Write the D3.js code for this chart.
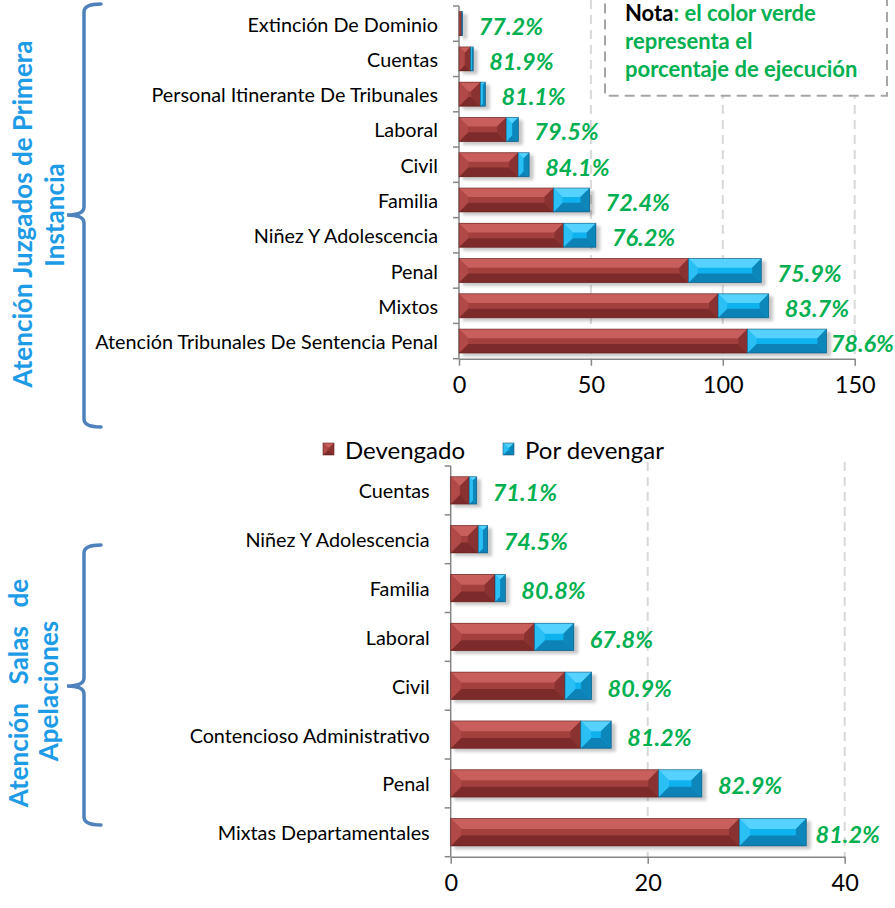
<!DOCTYPE html>
<html>
<head>
<meta charset="utf-8">
<script src="https://cdn.jsdelivr.net/npm/d3@7"></script>
<style>
  body { margin: 0; background: #fff; }
  svg { display: block; font-family: Lato, "Open Sans", sans-serif; }
</style>
</head>
<body>
<div id="chart"></div>
<script>
// ---- data ----
const topCats = ["Extinción De Dominio", "Cuentas", "Personal Itinerante De Tribunales", "Laboral", "Civil",
    "Familia", "Niñez Y Adolescencia", "Penal", "Mixtos", "Atención Tribunales De Sentencia Penal"];
const topDevengado = [1.08, 4.4, 8.1, 17.9, 22.4, 35.8, 39.6, 87.0, 98.2, 109.3];
const topPorDevengar = [0.32, 1.0, 1.9, 4.6, 4.2, 13.7, 12.3, 27.6, 19.2, 30.0];
const topPct = ["77.2%", "81.9%", "81.1%", "79.5%", "84.1%", "72.4%", "76.2%", "75.9%", "83.7%", "78.6%"];
const topTicks = [0, 50, 100, 150];

const botCats = ["Cuentas", "Niñez Y Adolescencia", "Familia", "Laboral", "Civil",
    "Contencioso Administrativo", "Penal", "Mixtas Departamentales"];
const botDevengado = [1.88, 2.8, 4.5, 8.5, 11.6, 13.2, 21.1, 29.3];
const botPorDevengar = [0.76, 0.95, 1.05, 4.0, 2.7, 3.1, 4.4, 6.8];
const botPct = ["71.1%", "74.5%", "80.8%", "67.8%", "80.9%", "81.2%", "82.9%", "81.2%"];
const botTicks = [0, 20, 40];

const seriesNames = ["Devengado", "Por devengar"];

// bevel colours for the two series
const redBar = { base: "#a3413e", top: "#c95f5b", bottom: "#7b2b29", left: "#b04a46", right: "#8a3330", stroke: "#5e1f1d" };
const blueBar = { base: "#0fb2ee", top: "#55d2ff", bottom: "#0b82b6", left: "#2cc0f5", right: "#0a86b9", stroke: "#1a4f72" };
const green = "#00b050";
const groupBlue = "#1e9be6";
const braceBlue = "#4f81bd";

const svg = d3.select("div#chart").append("svg")
    .attr("width", 895)
    .attr("height", 908);

const defs = svg.append("defs");
const shadow = defs.append("filter").attr("id", "shadow")
    .attr("x", "-10%").attr("y", "-20%").attr("width", "130%").attr("height", "160%");
shadow.append("feDropShadow")
    .attr("dx", 4).attr("dy", 3).attr("stdDeviation", 1.6)
    .attr("flood-color", "#000").attr("flood-opacity", 0.22);

// draw one bevelled rectangle
function bevelBar(g, x, y, w, h, c) {
    if (w <= 0) return;
    const d = Math.min(h * 0.38, w / 2);
    const bar = g.append("g");
    bar.append("rect").attr("x", x).attr("y", y).attr("width", w).attr("height", h).attr("fill", c.base);
    const poly = (pts, fill) => bar.append("polygon")
        .attr("points", pts.map(p => p.join(",")).join(" "))
        .attr("fill", fill);
    poly([[x, y], [x + w, y], [x + w - d, y + d], [x + d, y + d]], c.top);
    poly([[x, y + h], [x + w, y + h], [x + w - d, y + h - d], [x + d, y + h - d]], c.bottom);
    poly([[x, y], [x + d, y + d], [x + d, y + h - d], [x, y + h]], c.left);
    poly([[x + w, y], [x + w - d, y + d], [x + w - d, y + h - d], [x + w, y + h]], c.right);
    bar.append("rect").attr("x", x).attr("y", y).attr("width", w).attr("height", h)
        .attr("fill", "none").attr("stroke", c.stroke).attr("stroke-width", 0.8).attr("stroke-opacity", 0.7);
}

function drawPanel(cfg) {
    const g = svg.append("g");

    const x = d3.scaleLinear()
        .domain([0, cfg.ticks[cfg.ticks.length - 1]])
        .range([cfg.x0, cfg.x1]);

    const y = d3.scaleBand()
        .domain(cfg.cats)
        .range([cfg.yTop, cfg.yBottom])
        .paddingInner(cfg.pad)
        .paddingOuter(cfg.pad / 2);

    // dashed grid lines
    g.selectAll("line.grid")
        .data(cfg.ticks.filter(t => t > 0))
        .join("line")
        .attr("class", "grid")
        .attr("x1", d => x(d)).attr("x2", d => x(d))
        .attr("y1", cfg.gridTop).attr("y2", cfg.yBottom)
        .attr("stroke", "#d9d9d9")
        .attr("stroke-width", 2)
        .attr("stroke-dasharray", "9,6");

    // x axis
    const xAxis = g.append("g")
        .attr("transform", `translate(0,${cfg.yBottom})`)
        .call(d3.axisBottom(x).tickValues(cfg.ticks).tickSize(7).tickPadding(11).tickSizeOuter(0));
    xAxis.select(".domain").attr("stroke", "#868686").attr("stroke-width", 1.5);
    xAxis.selectAll(".tick line").attr("stroke", "#868686").attr("stroke-width", 1.5);
    xAxis.selectAll(".tick text")
        .attr("font-size", 23.5)
        .attr("font-family", "Lato, sans-serif")
        .attr("fill", "#000");

    // y axis line + boundary ticks
    g.append("line")
        .attr("x1", cfg.x0).attr("x2", cfg.x0)
        .attr("y1", cfg.yTop).attr("y2", cfg.yBottom)
        .attr("stroke", "#868686").attr("stroke-width", 1.5);
    const step = y.step();
    g.selectAll("line.ytick")
        .data(d3.range(cfg.cats.length + 1))
        .join("line")
        .attr("class", "ytick")
        .attr("x1", cfg.x0 - 6).attr("x2", cfg.x0)
        .attr("y1", i => cfg.yTop + i * step).attr("y2", i => cfg.yTop + i * step)
        .attr("stroke", "#868686").attr("stroke-width", 1.5);

    // category labels
    g.selectAll("text.cat")
        .data(cfg.cats)
        .join("text")
        .attr("class", "cat")
        .attr("x", cfg.x0 - 21)
        .attr("y", d => y(d) + y.bandwidth() / 2)
        .attr("text-anchor", "end")
        .attr("dominant-baseline", "central")
        .attr("font-size", 19.8)
        .attr("fill", "#000")
        .text(d => d);

    // stacked bars
    const bars = g.append("g").attr("filter", "url(#shadow)");
    cfg.cats.forEach((c, i) => {
        const by = y(c), bh = y.bandwidth();
        const bg = bars.append("g");
        bevelBar(bg, x(0), by, x(cfg.dev[i]) - x(0), bh, redBar);
        bevelBar(bg, x(cfg.dev[i]), by, x(cfg.dev[i] + cfg.por[i]) - x(cfg.dev[i]), bh, blueBar);
    });

    // percentage labels
    cfg.cats.forEach((c, i) => {
        const t = g.append("text")
            .attr("x", x(cfg.dev[i] + cfg.por[i]) + 16)
            .attr("y", y(c) + y.bandwidth() / 2 + 2)
            .attr("dominant-baseline", "central")
            .attr("font-size", 23.5)
            .attr("font-weight", "bold")
            .attr("font-style", "italic")
            .attr("fill", green)
            .text(cfg.pct[i]);
        const w = t.node().getComputedTextLength();
        const tx = +t.attr("x");
        if (tx + w > cfg.labelLimit) t.attr("x", cfg.labelLimit - w);
    });
}

drawPanel({
    cats: topCats, dev: topDevengado, por: topPorDevengar, pct: topPct, ticks: topTicks,
    x0: 459, x1: 854.7, yTop: 6, yBottom: 358.7, pad: 0.32, gridTop: 0, labelLimit: 894
});

drawPanel({
    cats: botCats, dev: botDevengado, por: botPorDevengar, pct: botPct, ticks: botTicks,
    x0: 450.7, x1: 844.7, yTop: 466, yBottom: 856.7, pad: 0.44, gridTop: 462, labelLimit: 880
});

// legend
const legend = svg.append("g").attr("transform", "translate(323,449)");
const legendColors = [redBar, blueBar];
const legendX = [0, 180];
seriesNames.forEach((name, i) => {
    bevelBar(legend, legendX[i], -6, 11, 12, legendColors[i]);
    legend.append("text")
        .attr("x", legendX[i] + 22)
        .attr("y", 0)
        .attr("dominant-baseline", "central")
        .attr("font-size", 24)
        .attr("fill", "#000")
        .text(name);
});

// note box
svg.append("rect")
    .attr("x", 605).attr("y", -10).attr("width", 282).attr("height", 105.7)
    .attr("fill", "#fff")
    .attr("stroke", "#a6a6a6").attr("stroke-width", 2).attr("stroke-dasharray", "10,6");
const nota = svg.append("text")
    .attr("x", 625).attr("y", 21)
    .attr("font-size", 22).attr("font-weight", "bold").attr("fill", green);
nota.append("tspan").attr("fill", "#000").text("Nota");
nota.append("tspan").text(": el color verde");
nota.append("tspan").attr("x", 625).attr("dy", 28).text("representa el");
nota.append("tspan").attr("x", 625).attr("dy", 28).text("porcentaje de ejecución");

// group braces
function brace(xLine, yA, yMid, yB) {
    const p = d3.path();
    p.moveTo(xLine + 17, yA);
    p.quadraticCurveTo(xLine, yA, xLine, yA + 8);
    p.lineTo(xLine, yMid - 8);
    p.quadraticCurveTo(xLine, yMid, xLine - 17, yMid);
    p.quadraticCurveTo(xLine, yMid, xLine, yMid + 8);
    p.lineTo(xLine, yB - 8);
    p.quadraticCurveTo(xLine, yB, xLine + 17, yB);
    svg.append("path").attr("d", p.toString())
        .attr("fill", "none").attr("stroke", braceBlue).attr("stroke-width", 3.5)
        .attr("stroke-linecap", "round");
}
brace(84, 4, 215, 427);
brace(84, 545, 686, 825);

// group labels (rotated)
function groupLabel(cx, cy, txt, ws) {
    svg.append("text")
        .attr("transform", `translate(${cx},${cy}) rotate(-90)`)
        .attr("text-anchor", "middle")
        .attr("dominant-baseline", "central")
        .attr("font-size", 26)
        .attr("font-weight", "bold")
        .attr("fill", groupBlue)
        .style("white-space", "pre")
        .style("word-spacing", ws + "px")
        .text(txt);
}
groupLabel(22, 214, "Atención Juzgados de Primera", 0);
groupLabel(54, 215, "Instancia", 0);
groupLabel(18, 693, "Atención  Salas  de", 3);
groupLabel(48, 691, "Apelaciones", 0);
</script>
</body>
</html>
